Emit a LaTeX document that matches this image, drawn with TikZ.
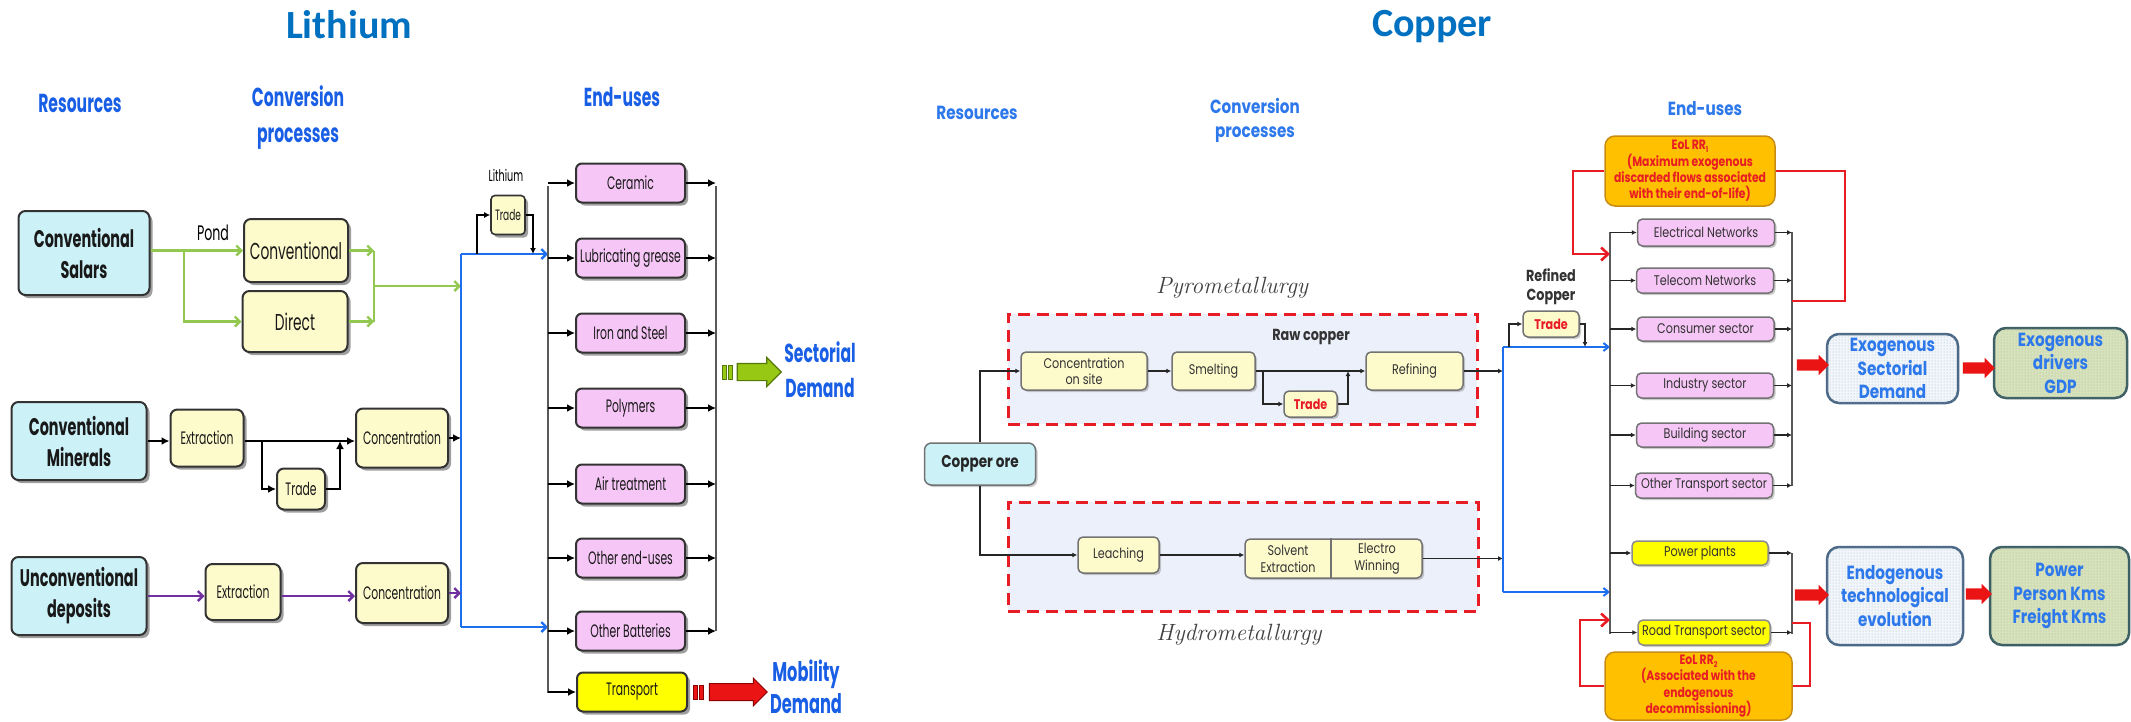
\documentclass[tikz,border=0pt]{standalone}
\usepackage{fontspec}
\usetikzlibrary{arrows.meta,shapes.arrows,shadows,patterns,calc}
\newfontfamily\LF{Poppins}[FakeStretch=0.6]
\newfontfamily\CF{Poppins}[FakeStretch=0.8]
\newfontfamily\TF{Carlito}
\definecolor{titleblue}{RGB}{0,112,192}
\definecolor{lhblue}{RGB}{25,95,230}
\definecolor{chblue}{RGB}{45,120,235}
\definecolor{cyanF}{RGB}{204,242,248}
\definecolor{creamF}{RGB}{253,251,204}
\definecolor{pinkF}{RGB}{246,198,246}
\definecolor{yelF}{RGB}{255,255,0}
\definecolor{gline}{RGB}{146,200,80}
\definecolor{bline}{RGB}{30,110,240}
\definecolor{pline}{RGB}{112,48,160}
\definecolor{redL}{RGB}{232,28,36}
\definecolor{orangeF}{RGB}{255,192,0}
\definecolor{orangeD}{RGB}{200,140,20}
\definecolor{zoneF}{RGB}{235,240,250}
\definecolor{exoF}{RGB}{240,246,252}
\definecolor{exoD}{RGB}{75,105,135}
\definecolor{gdpF}{RGB}{214,226,186}
\definecolor{gdpD}{RGB}{60,95,100}
\definecolor{garF}{RGB}{150,200,20}
\definecolor{garD}{RGB}{85,120,10}
\definecolor{rarF}{RGB}{235,20,20}
\newcommand\subn[1]{\raisebox{-0.35ex}{\fontsize{8}{8}\selectfont #1}}
\begin{document}
\begin{tikzpicture}[x=1pt,y=-1pt,
  lbase/.style={rounded corners=7pt, draw=black!80, line width=2pt, inner sep=0pt, align=center, text=black!90, drop shadow={shadow xshift=3pt, shadow yshift=-3pt, fill=black!75, opacity=0.5}},
  lres/.style={lbase, fill=cyanF, font=\LF\bfseries\fontsize{24}{31}\selectfont},
  lcream/.style={lbase, fill=creamF, font=\LF\fontsize{18}{20}\selectfont},
  lpink/.style={lbase, rounded corners=6pt, fill=pinkF, minimum width=109pt, minimum height=39pt, font=\LF\fontsize{18}{20}\selectfont},
  lhead/.style={font=\LF\bfseries\fontsize{26}{36}\selectfont, text=lhblue, align=center, anchor=base, inner sep=0pt},
  larr/.style={draw=black, line width=2.6pt, -{Latex[length=8pt,width=8pt]}},
  lbusl/.style={draw=black!65, line width=1.5pt},
  gpath/.style={draw=gline, line width=2.4pt},
  garr/.style={gpath, -{Straight Barb[length=5pt,width=10pt]}},
  bpath/.style={draw=bline, line width=2.4pt},
  barr/.style={bpath, -{Straight Barb[length=5pt,width=10pt]}},
  parr/.style={draw=pline, line width=2.4pt, -{Straight Barb[length=5pt,width=10pt]}},
  cbase/.style={rounded corners=5pt, draw=black!55, line width=1.5pt, inner sep=0pt, align=center, text=black!80, font=\CF\fontsize{14}{16}\selectfont, drop shadow={shadow xshift=2pt, shadow yshift=-2pt, fill=black!45, opacity=0.45}},
  ccream/.style={cbase, fill=creamF},
  cpink/.style={cbase, fill=pinkF, minimum width=137pt, minimum height=25pt},
  cyel/.style={cbase, fill=yelF, draw=black!45},
  ctrd/.style={ccream, text=redL, font=\CF\bfseries\fontsize{14}{16}\selectfont},
  carr/.style={draw=black!85, line width=1.4pt, -{Latex[length=5pt,width=5pt]}},
  cbusl/.style={draw=black!65, line width=1.3pt},
  cbpath/.style={draw=bline, line width=2pt},
  cbarr/.style={cbpath, -{Straight Barb[length=5pt,width=8pt]}},
  chead/.style={font=\CF\bfseries\fontsize{19}{24}\selectfont, text=chblue, align=center, anchor=base, inner sep=0pt},
  zone/.style={draw=redL, fill=zoneF, line width=3pt, dash pattern=on 12pt off 7pt, inner sep=0pt},
  rpath/.style={draw=redL, line width=2.6pt},
  rarr/.style={rpath, -{Straight Barb[length=7pt,width=13pt]}},
  eol/.style={rounded corners=10pt, draw=orangeD, line width=1.5pt, fill=orangeF, inner sep=0pt, align=center, text=redL, font=\CF\bfseries\fontsize{13.5}{16.3}\selectfont},
  exo/.style={rounded corners=12pt, line width=2.5pt, inner sep=0pt, align=center, text=chblue, font=\CF\bfseries\fontsize{19}{23.5}\selectfont},
  bigar/.style={single arrow, inner xsep=0pt, single arrow head indent=0pt},
  ital/.style={font=\rmfamily\itshape\fontsize{23.5}{24}\selectfont, text=black!75, anchor=base, inner sep=0pt},
  darklab/.style={font=\CF\bfseries\fontsize{16}{18.5}\selectfont, text=black!80, align=center, anchor=base, inner sep=0pt}
]
\fill[white] (0,0) rectangle (2131,721);
\useasboundingbox (0,0) rectangle (2131,721);

% ---------------- titles ----------------
\node[font=\TF\bfseries\fontsize{40}{40}\selectfont, text=titleblue, anchor=base, inner sep=0pt] (tlit) at (349,38) {Lithium};
\node[font=\TF\bfseries\fontsize{40}{40}\selectfont, text=titleblue, anchor=base, inner sep=0pt] (tcop) at (1432,36) {Copper};

% ---------------- Lithium headings ----------------
\node[lhead] (lresh) at (80,112) {Resources};
\node[lhead] (lconvh) at (298,142) {Conversion\\processes};
\node[lhead] (lendh) at (622,106) {End-uses};

% ---------------- Lithium resources / conversion ----------------
\node[lres, minimum width=131pt, minimum height=84pt] (salars) at (84,253) {Conventional\\Salars};
\node[lres, minimum width=135pt, minimum height=78pt] (minerals) at (79,441) {Conventional\\Minerals};
\node[lres, minimum width=135pt, minimum height=78pt] (unconv) at (79,596) {Unconventional\\deposits};

\node[font=\LF\fontsize{21}{21}\selectfont, anchor=base, inner sep=0pt] (pond) at (213,240) {Pond};
\node[lcream, font=\LF\fontsize{23}{25}\selectfont, minimum width=104pt, minimum height=63pt] (lconv) at (296,250.5) {Conventional};
\node[lcream, font=\LF\fontsize{23}{25}\selectfont, minimum width=105pt, minimum height=61pt] (ldirect) at (295,321.5) {Direct};

\node[lcream, minimum width=73pt, minimum height=57pt] (ext1) at (207,438) {Extraction};
\node[lcream, minimum width=92pt, minimum height=59pt] (conc1) at (402,438) {Concentration};
\node[lcream, minimum width=48pt, minimum height=41pt] (mtrade) at (301,489) {Trade};
\node[lcream, minimum width=75pt, minimum height=56pt] (ext2) at (243,592) {Extraction};
\node[lcream, minimum width=92pt, minimum height=60pt] (conc2) at (402,593) {Concentration};

\node[font=\LF\fontsize{16}{16}\selectfont, anchor=base, inner sep=0pt] (lithlab) at (506,181) {Lithium};
\node[lcream, rounded corners=4pt, font=\LF\fontsize{15}{15}\selectfont, minimum width=34pt, minimum height=39pt, line width=1.6pt] (ltrade) at (508,215) {Trade};

% ---------------- Lithium end uses ----------------
\node[lpink] (ceramic) at (630.5,183) {Ceramic};
\node[lpink] (lube) at (630.5,258) {Lubricating grease};
\node[lpink] (iron) at (630.5,333) {Iron and Steel};
\node[lpink] (poly) at (630.5,408) {Polymers};
\node[lpink] (air) at (630.5,484) {Air treatment};
\node[lpink] (oth) at (630.5,558) {Other end-uses};
\node[lpink] (batt) at (630.5,631) {Other Batteries};
\node[lpink, fill=yelF, minimum width=110pt] (transp) at (632,692) {Transport};

\node[lhead, font=\LF\bfseries\fontsize{26}{35}\selectfont] (secdem) at (820,397) {Sectorial\\Demand};
\node[lhead, font=\LF\bfseries\fontsize{27}{32}\selectfont] (mobdem) at (806,713) {Mobility\\Demand};

% ---------------- Lithium connectors ----------------
\coordinate (gsplit) at (184,250.5);
\coordinate (gjoin) at (374,286);
\coordinate (btop) at (461,254);
\coordinate (bbot) at (461,627);
\coordinate (lbt) at (548,186);
\coordinate (lbb) at (548,693);
\coordinate (rbt) at (716,186);
\coordinate (rbb) at (716,631);

\draw[garr] (salars.east |- lconv.west) -- (lconv.west);
\draw[garr] (gsplit) |- (ldirect.west);
\draw[garr] (lconv.east) -- (lconv.east -| gjoin);
\draw[garr] (ldirect.east) -- (ldirect.east -| gjoin);
\draw[gpath] (gjoin |- lconv.east) -- (gjoin |- ldirect.east);
\draw[garr] (gjoin) -- (gjoin -| btop);

\draw[bpath] (bbot) -- (btop);
\draw[barr] (btop) -- (btop -| lbt);
\draw[barr] (bbot) -- (bbot -| lbt);

\coordinate (lt1) at (477,254);
\coordinate (lt2) at (533,254);
\draw[larr, line width=2pt, -{Latex[length=6pt,width=6pt]}] (lt1) |- (ltrade.west);
\draw[larr, line width=2pt, -{Latex[length=6pt,width=6pt]}] (ltrade.east) -| (lt2);

\coordinate (mt1) at (262,441);
\coordinate (mt2) at (340,441);
\draw[larr] (minerals.east) -- (minerals.east -| ext1.west);
\draw[larr] (ext1.east |- minerals.east) -- (conc1.west |- minerals.east);
\draw[larr] (mt1) |- (mtrade.west);
\draw[larr] (mtrade.east) -| (mt2);
\draw[larr] (conc1.east) -- (conc1.east -| btop);

\draw[parr] (unconv.east) -- (unconv.east -| ext2.west);
\draw[parr] (ext2.east |- unconv.east) -- (conc2.west |- unconv.east);
\draw[parr] (conc2.east) -- (conc2.east -| btop);

\draw[lbusl] (lbt) -- (lbb);
\draw[lbusl] (rbt) -- (rbb);
\foreach \n in {ceramic,lube,iron,poly,air,oth,batt} {
  \draw[larr] (\n.west -| lbt) -- (\n.west);
  \draw[larr] (\n.east) -- (\n.east -| rbt);
}
\draw[larr] (transp.west -| lbt) -- (transp.west);

% block arrows (lithium)
\filldraw[fill=garF, draw=garD, line width=0.8pt] (722,365) rectangle (726,379) (728,365) rectangle (732,379);
\node[bigar, fill=garF, draw=garD, line width=1.2pt, inner ysep=8pt, minimum height=44pt, minimum width=28pt, single arrow head extend=6pt] (garrw) at (755,372) {};
\filldraw[fill=rarF, draw=red!55!black, line width=0.8pt] (693,685) rectangle (697,699) (699,685) rectangle (703,699);
\node[bigar, fill=rarF, draw=red!55!black, line width=1pt, inner ysep=8pt, minimum height=58pt, minimum width=27pt, single arrow head extend=5.5pt] (rarw) at (734,692) {};

% ---------------- Copper headings ----------------
\node[chead] (cresh) at (977,119) {Resources};
\node[chead] (cconvh) at (1255,137) {Conversion\\processes};
\node[chead] (cendh) at (1705,115) {End-uses};

% zones
\node[zone, minimum width=469pt, minimum height=110pt] (pyro) at (1242.5,369) {};
\node[zone, minimum width=470pt, minimum height=109pt] (hydro) at (1243,556.5) {};
\node[ital] (pyrolab) at (1232,293) {Pyrometallurgy};
\node[ital] (hydrolab) at (1239,640) {Hydrometallurgy};

% copper nodes
\node[cbase, fill=cyanF, rounded corners=7pt, font=\CF\bfseries\fontsize{17}{17}\selectfont, text=black!85, minimum width=111pt, minimum height=42pt] (ore) at (980,464) {Copper ore};
\node[ccream, minimum width=126pt, minimum height=38pt, font=\CF\fontsize{14}{15.5}\selectfont] (cconc) at (1084,371) {Concentration\\on site};
\node[ccream, minimum width=83pt, minimum height=38pt] (smelt) at (1213.5,371) {Smelting};
\node[ccream, minimum width=97pt, minimum height=38pt] (refin) at (1414.5,371) {Refining};
\node[ctrd, minimum width=53pt, minimum height=26pt] (ctrade) at (1310.5,404) {Trade};
\node[darklab] (rawlab) at (1311,340) {Raw copper};
\node[ccream, minimum width=81pt, minimum height=36pt] (leach) at (1118.5,555) {Leaching};
\node[ccream, minimum width=177pt, minimum height=39pt] (sx) at (1333.5,558.5) {};
\draw[draw=black!55, line width=1.3pt] ($(sx.north west)!0.486!(sx.north east)$) -- ($(sx.south west)!0.486!(sx.south east)$);
\node[font=\CF\fontsize{14}{17}\selectfont, text=black!80, align=center, inner sep=0pt] (sxl) at (1288,559) {Solvent\\Extraction};
\node[font=\CF\fontsize{14}{17}\selectfont, text=black!80, align=center, inner sep=0pt] (sxr) at (1377,559) {Electro\\Winning};

\node[darklab] (reflab) at (1551,300) {Refined\\Copper};
\node[ctrd, minimum width=56pt, minimum height=26pt] (rtrade) at (1551,324) {Trade};

% copper end uses
\node[cpink, minimum height=27pt] (elec) at (1706,232.5) {Electrical Networks};
\node[cpink] (tele) at (1705,280.5) {Telecom Networks};
\node[cpink, minimum height=24pt] (cons) at (1705.5,329) {Consumer sector};
\node[cpink] (indu) at (1705,385.5) {Industry sector};
\node[cpink, minimum height=24pt] (build) at (1705,435) {Building sector};
\node[cpink] (otr) at (1704,485.5) {Other Transport sector};
\node[cyel, minimum width=136pt, minimum height=24pt] (power) at (1700,553) {Power plants};
\node[cyel, minimum width=132pt, minimum height=25pt] (road) at (1704,632.5) {Road Transport sector};

\node[eol, minimum width=170pt, minimum height=70pt] (eol1) at (1690,171) {EoL RR\subn{1}\\(Maximum exogenous\\discarded flows associated\\with their end-of-life)};
\node[eol, minimum width=187pt, minimum height=68pt] (eol2) at (1698.5,686) {EoL RR\subn{2}\\(Associated with the\\endogenous\\decommissioning)};

\node[exo, draw=exoD, fill=exoF, postaction={pattern=dots, pattern color=black!30}, minimum width=131pt, minimum height=69pt] (exod) at (1892.5,368.5) {Exogenous\\Sectorial\\Demand};
\node[exo, draw=gdpD, fill=gdpF, postaction={pattern=dots, pattern color=black!30}, minimum width=133pt, minimum height=70pt] (gdp) at (2060.5,363) {Exogenous\\drivers\\GDP};
\node[exo, draw=exoD, fill=exoF, postaction={pattern=dots, pattern color=black!30}, minimum width=136pt, minimum height=98pt] (endo) at (1895,596) {Endogenous\\technological\\evolution};
\node[exo, draw=gdpD, fill=gdpF, postaction={pattern=dots, pattern color=black!30}, minimum width=139pt, minimum height=98pt] (pkm) at (2059.5,596) {Power\\Person Kms\\Freight Kms};

\node[bigar, fill=rarF, inner ysep=5.5pt, minimum height=32pt, minimum width=20pt, single arrow head extend=4.5pt] (ra1) at (1810,365) {};
\node[bigar, fill=rarF, inner ysep=5.5pt, minimum height=32pt, minimum width=20pt, single arrow head extend=4.5pt] (ra2) at (1976,368) {};
\node[bigar, fill=rarF, inner ysep=5.5pt, minimum height=34pt, minimum width=20pt, single arrow head extend=4.5pt] (ra3) at (1809,595) {};
\node[bigar, fill=rarF, inner ysep=5.5pt, minimum height=26pt, minimum width=20pt, single arrow head extend=4.5pt] (ra4) at (1976,594) {};

% copper connectors
\coordinate (cs1) at (1263,371);
\coordinate (cs2) at (1348,371);
\coordinate (cbt) at (1503,347);
\coordinate (cbb) at (1503,592);
\coordinate (cl1) at (1610,232);
\coordinate (cl2) at (1610,634);
\coordinate (cr1) at (1792,232);
\coordinate (cr2) at (1792,486);
\coordinate (cr3) at (1792,553);
\coordinate (cr4) at (1792,634);
\coordinate (rt1) at (1509,347);
\coordinate (rt2) at (1585,347);

\draw[carr] (ore.north) |- (cconc.west);
\draw[carr] (ore.south) |- (leach.west);
\draw[carr] (cconc.east) -- (smelt.west);
\draw[carr] (smelt.east) -- (refin.west);
\draw[carr] (cs1) |- (ctrade.west);
\draw[carr] (ctrade.east) -| (cs2);
\draw[carr] (refin.east) -- (refin.east -| cbt);
\draw[carr] (leach.east) -- (leach.east -| sx.west);
\draw[carr] (sx.east) -- (sx.east -| cbt);

\draw[cbpath] (cbb) -- (cbt);
\draw[cbarr] (cbt) -- (cbt -| cl1);
\draw[cbarr] (cbb) -- (cbb -| cl1);
\draw[carr] (rt1) |- (rtrade.west);
\draw[carr] (rtrade.east) -| (rt2);

\draw[cbusl] (cl1) -- (cl2);
\draw[cbusl] (cr1) -- (cr2);
\draw[cbusl] (cr3) -- (cr4);
\foreach \n in {elec,tele,cons,indu,build,otr,power,road} {
  \draw[carr] (\n.west -| cl1) -- (\n.west);
  \draw[carr] (\n.east) -- (\n.east -| cr1);
}

\coordinate (e1a) at (1573,254);
\coordinate (e1b) at (1845,301);
\coordinate (e2a) at (1580,620);
\coordinate (e2b) at (1810,623);
\draw[rarr] (eol1.west) -| (e1a) -- (e1a -| cl1);
\draw[rpath] (eol1.east) -| (e1b) -- (e1b -| cr1);
\draw[rarr] (eol2.west) -| (e2a) -- (e2a -| cl1);
\draw[rpath] (eol2.east) -| (e2b) -- (e2b -| cr1);
\end{tikzpicture}
\end{document}
